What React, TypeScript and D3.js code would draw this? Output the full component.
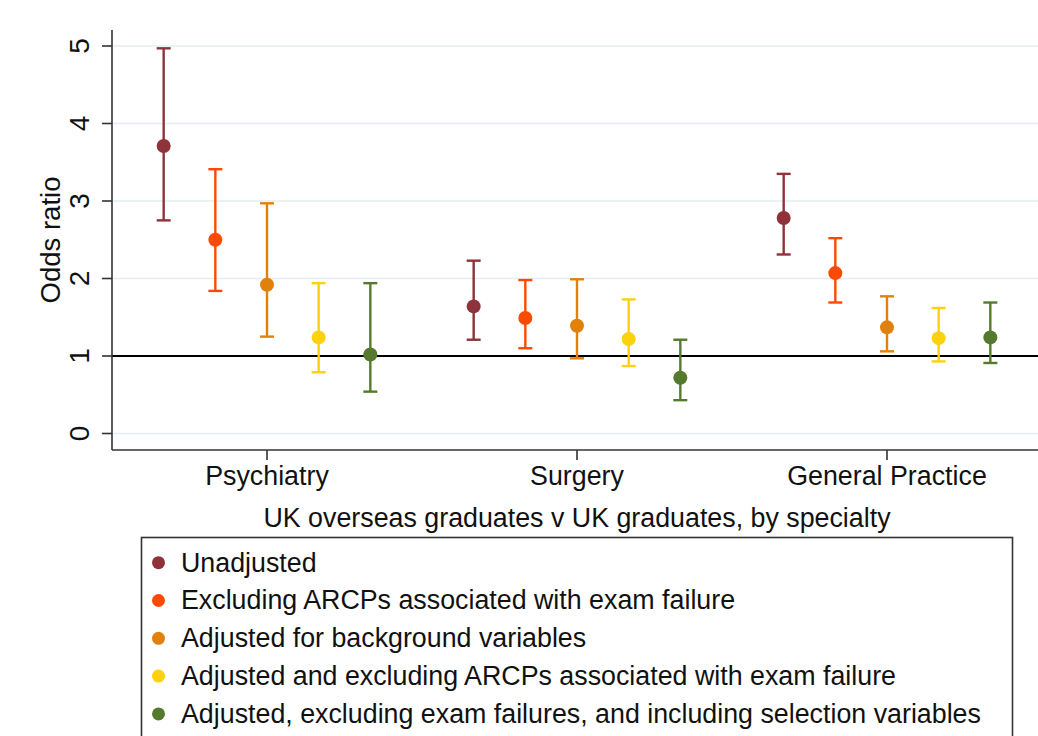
import React from "react";
import * as d3 from "d3";

const categories = ["Psychiatry", "Surgery", "General Practice"];
const seriesNames = [
  "Unadjusted",
  "Excluding ARCPs associated with exam failure",
  "Adjusted for background variables",
  "Adjusted and excluding ARCPs associated with exam failure",
  "Adjusted, excluding exam failures, and including selection variables",
];
const seriesColors = ["#8e3339", "#fd4a03", "#e1800b", "#fdd10c", "#557a2e"];

const unadjOR = [3.71, 1.64, 2.78];
const unadjLo = [2.75, 1.21, 2.31];
const unadjHi = [4.97, 2.23, 3.35];
const exclOR = [2.5, 1.49, 2.07];
const exclLo = [1.84, 1.1, 1.69];
const exclHi = [3.41, 1.98, 2.52];
const adjOR = [1.92, 1.39, 1.37];
const adjLo = [1.25, 0.97, 1.06];
const adjHi = [2.97, 1.99, 1.77];
const adjExclOR = [1.24, 1.22, 1.23];
const adjExclLo = [0.79, 0.87, 0.93];
const adjExclHi = [1.94, 1.73, 1.62];
const selOR = [1.02, 0.72, 1.24];
const selLo = [0.54, 0.43, 0.91];
const selHi = [1.94, 1.21, 1.69];

const yTicks = [0, 1, 2, 3, 4, 5];

const seriesOR = [unadjOR, exclOR, adjOR, adjExclOR, selOR];
const seriesLo = [unadjLo, exclLo, adjLo, adjExclLo, selLo];
const seriesHi = [unadjHi, exclHi, adjHi, adjExclHi, selHi];

const W = 1038;
const H = 736;
const FONT = "'Liberation Sans', Arial, Helvetica, sans-serif";
const FS = 26.8;

export default function App() {
  // x: each category occupies 6 slots, series offsets -2..2 around category center
  const x = d3.scaleLinear().domain([-3, 15]).range([112, 1042]);
  const y = d3.scaleLinear().domain([0, 5]).range([433.5, 46]);
  const plotLeft = x(-3);
  const plotTop = 30;
  const plotBottom = 450;
  const plotRight = W;
  const catPos = (i: number) => i * 6;
  const r = 7;
  const capHalf = 7;

  return (
    <svg
      width={W}
      height={H}
      style={{ position: "absolute", left: 0, top: 0, background: "#fff" }}
      fontFamily={FONT}
    >
      <rect x={0} y={0} width={W} height={H} fill="#fff" />
      {yTicks.map((t) => (
        <line
          key={"g" + t}
          x1={plotLeft + 1}
          x2={plotRight}
          y1={y(t)}
          y2={y(t)}
          stroke="#e4eef0"
          strokeWidth={1.6}
        />
      ))}
      <line x1={plotLeft} x2={plotRight} y1={y(1)} y2={y(1)} stroke="#000" strokeWidth={2.2} />
      <line x1={plotLeft} x2={plotLeft} y1={plotTop} y2={plotBottom} stroke="#333" strokeWidth={1.6} />
      <line x1={plotLeft} x2={plotRight} y1={plotBottom} y2={plotBottom} stroke="#333" strokeWidth={1.6} />
      {yTicks.map((t) => (
        <g key={"yt" + t}>
          <line x1={plotLeft - 10} x2={plotLeft} y1={y(t)} y2={y(t)} stroke="#333" strokeWidth={1.6} />
          <text
            transform={`translate(89,${y(t)}) rotate(-90)`}
            textAnchor="middle"
            fontSize={28}
            fill="#111"
          >
            {t}
          </text>
        </g>
      ))}
      {categories.map((c, i) => (
        <g key={c}>
          <line
            x1={x(catPos(i))}
            x2={x(catPos(i))}
            y1={plotBottom}
            y2={plotBottom + 10}
            stroke="#333"
            strokeWidth={1.6}
          />
          <text x={x(catPos(i))} y={485} textAnchor="middle" fontSize={FS} fill="#111">
            {c}
          </text>
        </g>
      ))}
      <text
        transform={`translate(60,240) rotate(-90)`}
        textAnchor="middle"
        fontSize={27.5}
        fill="#111"
      >
        Odds ratio
      </text>
      <text x={577} y={527} textAnchor="middle" fontSize={FS} fill="#111">
        UK overseas graduates v UK graduates, by specialty
      </text>
      {seriesOR.map((vals, s) =>
        vals.map((v, i) => {
          const cx = x(catPos(i) + s - 2);
          const lo = seriesLo[s][i];
          const hi = seriesHi[s][i];
          const col = seriesColors[s];
          return (
            <g key={`p${s}-${i}`}>
              <line x1={cx} x2={cx} y1={y(lo)} y2={y(hi)} stroke={col} strokeWidth={2.4} />
              <line x1={cx - capHalf} x2={cx + capHalf} y1={y(lo)} y2={y(lo)} stroke={col} strokeWidth={2.4} />
              <line x1={cx - capHalf} x2={cx + capHalf} y1={y(hi)} y2={y(hi)} stroke={col} strokeWidth={2.4} />
              <circle cx={cx} cy={y(v)} r={r} fill={col} />
            </g>
          );
        })
      )}
      <rect x={141.5} y={537.5} width={871} height={240} fill="#fff" stroke="#333" strokeWidth={1.6} />
      {seriesNames.map((n, s) => (
        <g key={n}>
          <circle cx={158.5} cy={562.7 + s * 37.8} r={6.5} fill={seriesColors[s]} />
          <text x={181} y={571.5 + s * 37.8} fontSize={FS} fill="#111">
            {n}
          </text>
        </g>
      ))}
    </svg>
  );
}
